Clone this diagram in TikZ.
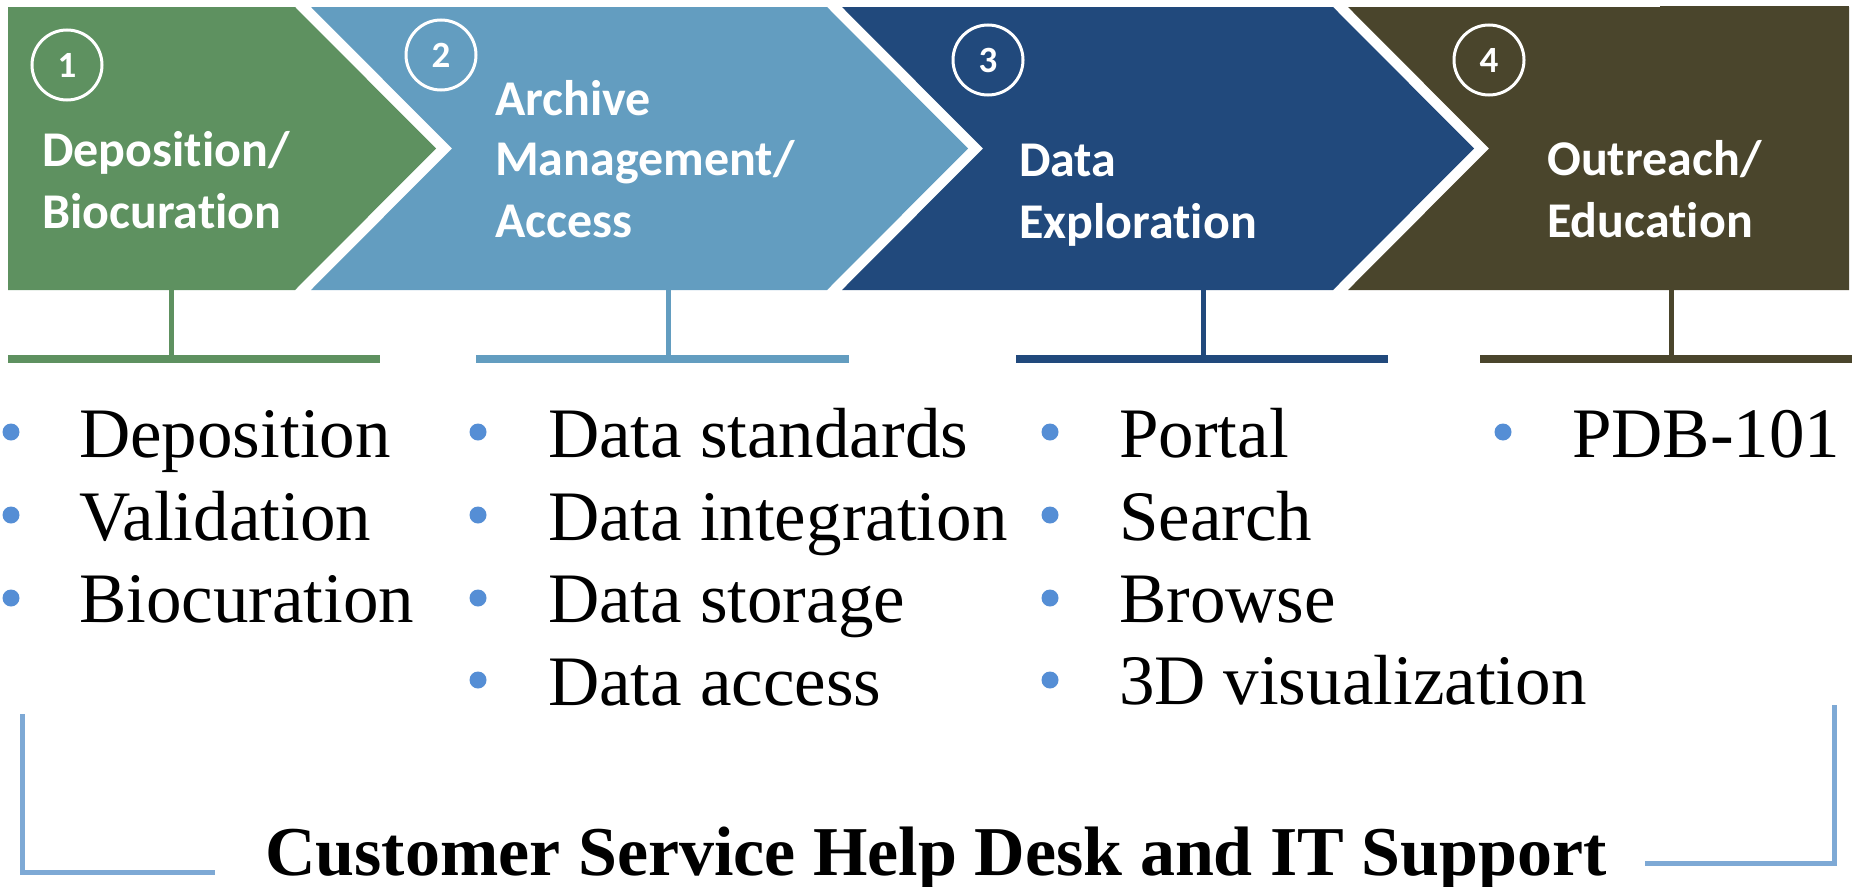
\documentclass[tikz,border=0pt]{standalone}
\usepackage{fontspec}
\setmainfont{Liberation Serif}
\newfontfamily\headfont{Carlito}[RawFeature={-liga;-clig;-dlig}]
\definecolor{cgreen}{HTML}{5E9160}
\definecolor{clblue}{HTML}{639DC0}
\definecolor{cdblue}{HTML}{21497C}
\definecolor{cbrown}{HTML}{4A452C}
\definecolor{cbullet}{HTML}{558ED5}
\definecolor{cbracket}{HTML}{7EA9D5}
\begin{document}
\begin{tikzpicture}[x=1pt,y=-1pt,
  headtxt/.style={anchor=base west, inner sep=0, text=white, font=\headfont\bfseries\fontsize{50}{50}\selectfont},
  listitem/.style={anchor=base west, inner sep=0, font=\fontsize{71}{71}\selectfont},
  bdot/.style={circle, fill=cbullet, inner sep=0, minimum size=17},
  numc/.style={circle, draw=white, line width=3, minimum size=70, inner sep=0, text=white, font=\headfont\bfseries\fontsize{37}{37}\selectfont},
  stem/.style={line width=5},
  barline/.style={line width=7.5},
  bracketline/.style={cbracket, line width=5},
]
\fill[white] (0,0) rectangle (1857,886);
\useasboundingbox (0,0) rectangle (1857,886);

% chevrons
\fill[cgreen] (8,7) -- (295,7) -- (436,148.5) -- (295,290) -- (8,290) -- cycle;
\fill[clblue] (311,7) -- (827,7) -- (968,148.5) -- (827,290) -- (311,290) -- (452,148.5) -- cycle;
\fill[cdblue] (842,7) -- (1333,7) -- (1474,148.5) -- (1333,290) -- (842,290) -- (983,148.5) -- cycle;
\fill[cbrown] (1348,7) -- (1849,7) -- (1849,290) -- (1348,290) -- (1489,148.5) -- cycle;
\fill[cbrown] (1660,5.5) rectangle (1849,289);

% number circles
\node[numc] (n1) at (67,65) {1};
\node[numc] (n2) at (441,55) {2};
\node[numc] (n3) at (988,60) {3};
\node[numc] (n4) at (1489,60) {4};

% headings
\node[headtxt] (h1a) at (42,166) {Deposition/};
\node[headtxt] (h1b) at (42,228) {Biocuration};
\node[headtxt] (h2a) at (495,115) {Archive};
\node[headtxt] (h2b) at (495,175) {Management/};
\node[headtxt] (h2c) at (495,237) {Access};
\node[headtxt] (h3a) at (1019,176) {Data};
\node[headtxt] (h3b) at (1019,238) {Exploration};
\node[headtxt] (h4a) at (1547,175) {Outreach/};
\node[headtxt] (h4b) at (1547,237) {Education};

% stems and bars
\coordinate (s1t) at (171,290); \coordinate (s1b) at (171,356);
\coordinate (s2t) at (668,290); \coordinate (s2b) at (668,356);
\coordinate (s3t) at (1203,290); \coordinate (s3b) at (1203,356);
\coordinate (s4t) at (1671,290); \coordinate (s4b) at (1671,356);
\draw[stem, cgreen] (s1t) -- (s1b);
\draw[stem, clblue] (s2t) -- (s2b);
\draw[stem, cdblue] (s3t) -- (s3b);
\draw[stem, cbrown] (s4t) -- (s4b);
\coordinate (b1l) at (8,359); \coordinate (b1r) at (380,359);
\coordinate (b2l) at (476,359); \coordinate (b2r) at (849,359);
\coordinate (b3l) at (1016,359); \coordinate (b3r) at (1388,359);
\coordinate (b4l) at (1480,359); \coordinate (b4r) at (1852,359);
\draw[barline, cgreen] (b1l) -- (b1r);
\draw[barline, clblue] (b2l) -- (b2r);
\draw[barline, cdblue] (b3l) -- (b3r);
\draw[barline, cbrown] (b4l) -- (b4r);

% lists column 1
\node[bdot] (d1a) at (11,432) {};
\node[bdot] (d1b) at (11,515) {};
\node[bdot] (d1c) at (11,598) {};
\node[listitem] (l1a) at (79,457) {Deposition};
\node[listitem] (l1b) at (79,540) {Validation};
\node[listitem] (l1c) at (79,622) {Biocuration};
% column 2
\node[bdot] (d2a) at (478,432) {};
\node[bdot] (d2b) at (478,515) {};
\node[bdot] (d2c) at (478,598) {};
\node[bdot] (d2d) at (478,680) {};
\node[listitem] (l2a) at (548,457) {Data standards};
\node[listitem] (l2b) at (548,540) {Data integration};
\node[listitem] (l2c) at (548,622) {Data storage};
\node[listitem] (l2d) at (548,705) {Data access};
% column 3
\node[bdot] (d3a) at (1050,432) {};
\node[bdot] (d3b) at (1050,515) {};
\node[bdot] (d3c) at (1050,598) {};
\node[bdot] (d3d) at (1050,680) {};
\node[listitem] (l3a) at (1119,457) {Portal};
\node[listitem] (l3b) at (1119,540) {Search};
\node[listitem] (l3c) at (1119,622) {Browse};
\node[listitem] (l3d) at (1119,704) {3D visualization};
% column 4
\node[bdot] (d4a) at (1503,432) {};
\node[listitem] (l4a) at (1572,457) {PDB-101};

% bottom
\node[anchor=base, inner sep=0, font=\bfseries\fontsize{70}{70}\selectfont] (cs) at (936,875) {Customer Service Help Desk and IT Support};
\coordinate (lbt) at (22,714); \coordinate (lbc) at (22,872); \coordinate (lbe) at (215,872);
\coordinate (rbt) at (1834,705); \coordinate (rbc) at (1834,863); \coordinate (rbe) at (1645,863);
\draw[bracketline] (lbt) -- (lbc) -- (lbe);
\draw[bracketline] (rbt) -- (rbc) -- (rbe);
\end{tikzpicture}
\end{document}
